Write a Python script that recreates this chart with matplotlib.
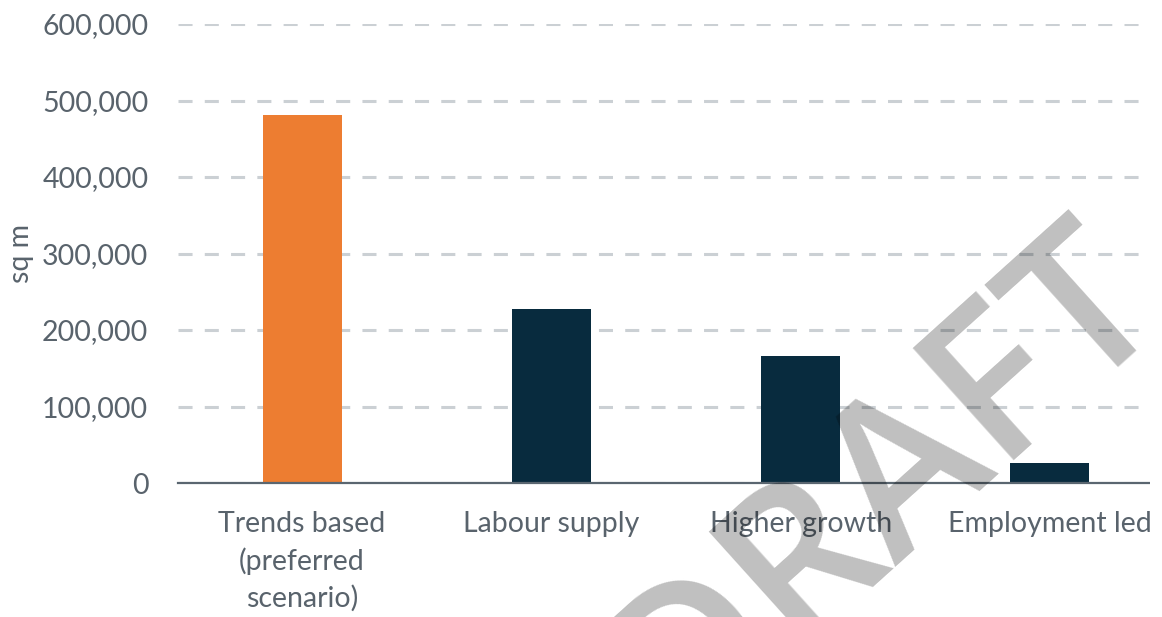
import matplotlib
matplotlib.use("Agg")
import matplotlib.pyplot as plt
from matplotlib.ticker import FuncFormatter
from matplotlib.patches import Rectangle

categories = ["Trends based\n(preferred\nscenario)", "Labour supply", "Higher growth", "Employment led"]
values = [481000, 227000, 166000, 26000]
bar_colors = ["#ED7D31", "#082B3E", "#082B3E", "#082B3E"]
yticks = [0, 100000, 200000, 300000, 400000, 500000, 600000]

plt.rcParams['font.family'] = ['Lato', 'DejaVu Sans']
text_color = "#59636c"

W, H = 1162, 617
fig = plt.figure(figsize=(W / 100, H / 100), dpi=100)
ax = fig.add_axes([177.5 / W, 1 - 483 / H, 997 / W, (483 - 24) / H])

x = range(len(categories))
ax.bar(x, values, width=0.317, color=bar_colors, zorder=3)
ax.set_xlim(-0.5, 3.5)
ax.set_ylim(0, 600000)
ax.set_yticks(yticks)
ax.yaxis.set_major_formatter(FuncFormatter(lambda v, p: f"{int(v):,}"))
ax.set_xticks(list(x))
ax.set_xticklabels(categories, linespacing=1.45)

for s in ["top", "right", "left"]:
    ax.spines[s].set_visible(False)
ax.spines["bottom"].set_color("#5a6670")
ax.spines["bottom"].set_linewidth(1.6)
ax.spines["bottom"].set_zorder(4)

ax.tick_params(axis="both", length=0, labelsize=20.5, labelcolor=text_color)
ax.tick_params(axis="y", pad=21)
ax.tick_params(axis="x", pad=20)

ax.yaxis.grid(True, color="#cbd0d4", linewidth=2.2, linestyle=(0, (4.6, 4.0)), zorder=0)
ax.set_axisbelow(True)

ax.set_ylabel("sq m", fontsize=20.5, color=text_color)
ax.yaxis.set_label_coords(-144 / 997, 0.5)

# watermark
fig.text(922 / W, 1 - 526 / H, "DRAFT", fontsize=152, color="black", alpha=0.25,
         family="Open Sans", fontweight="semibold", rotation=42, rotation_mode="anchor",
         ha="center", va="baseline", zorder=10)

# right-edge crop
fig.patches.append(Rectangle((1150 / W, 0), 1, 1, transform=fig.transFigure,
                             facecolor="white", edgecolor="none", zorder=20))

fig.savefig("out.png", dpi=100)
